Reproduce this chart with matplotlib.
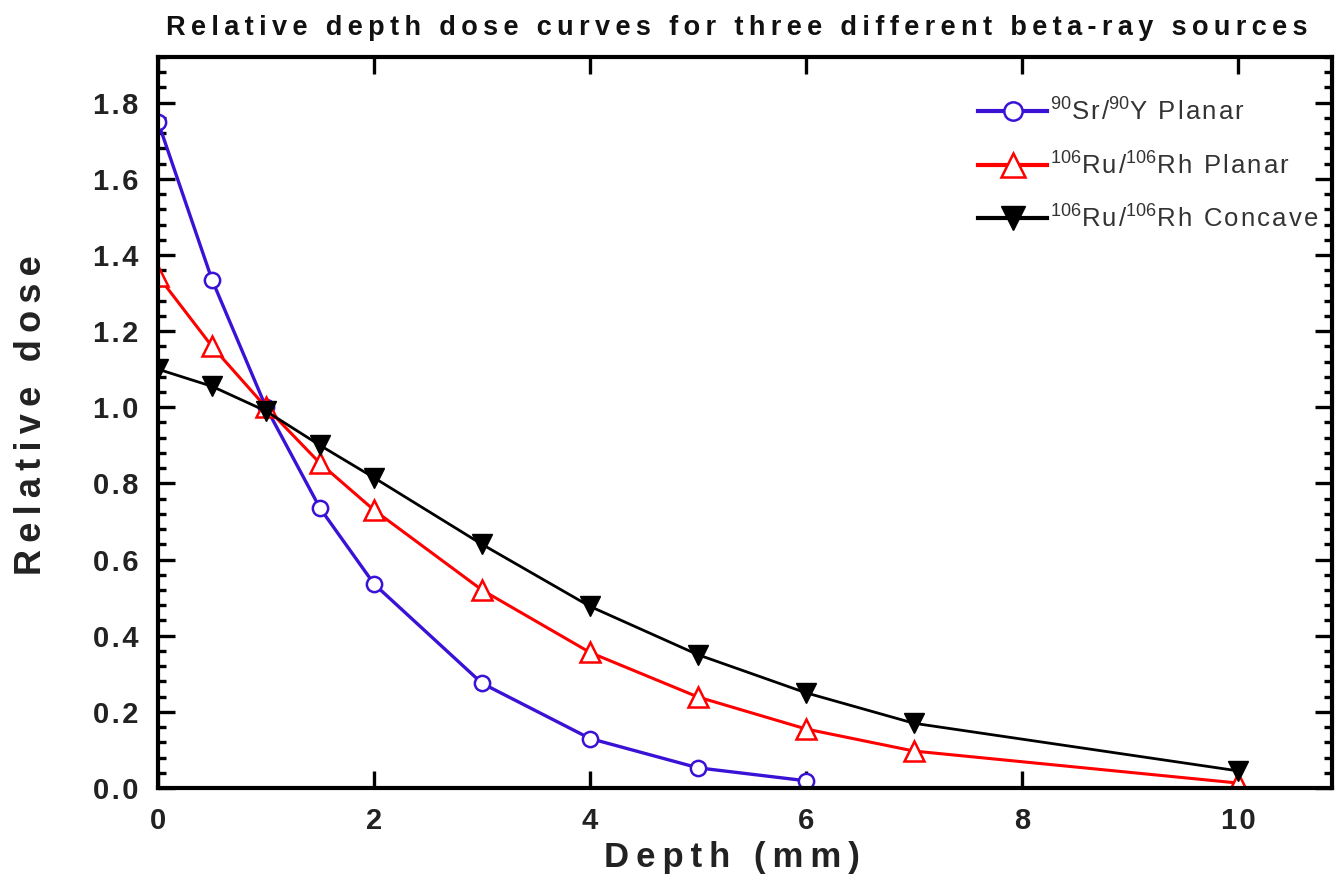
import numpy as np
import matplotlib
matplotlib.use("Agg")
import matplotlib.pyplot as plt
from matplotlib.ticker import MultipleLocator, FuncFormatter

plt.rcParams['font.family'] = ['Liberation Sans', 'DejaVu Sans']
plt.rcParams['mathtext.fontset'] = 'custom'
plt.rcParams['mathtext.rm'] = 'Liberation Sans'

# depth (mm) and relative dose
depth_sr = [0, 0.5, 1, 1.5, 2, 3, 4, 5, 6]
dose_sr = [1.75, 1.335, 1.0, 0.735, 0.536, 0.275, 0.13, 0.053, 0.019]

depth_ru = [0, 0.5, 1, 1.5, 2, 3, 4, 5, 6, 7, 10]
dose_ru_planar = [1.345, 1.16, 1.0, 0.853, 0.73, 0.52, 0.356, 0.239, 0.155, 0.097, 0.013]
dose_ru_concave = [1.1, 1.055, 0.99, 0.9, 0.815, 0.64, 0.477, 0.35, 0.25, 0.17, 0.045]

HS = '\u200a'  # hair space
TS = '\u2009'  # thin space


def spaced(s, sp=HS):
    # loose letter spacing like the original
    return sp.join(s)


labels = [r'$^{90}$' + spaced('Sr/') + r'$^{90}$' + spaced('Y Planar'),
          r'$^{106}$' + spaced('Ru/') + r'$^{106}$' + spaced('Rh Planar'),
          r'$^{106}$' + spaced('Ru/') + r'$^{106}$' + spaced('Rh Concave')]

fig = plt.figure(figsize=(13.39, 8.90), dpi=100)
ax = fig.add_axes([158 / 1339, 1 - 788 / 890, 1174 / 1339, 731 / 890])

ax.plot(depth_sr, dose_sr, color='#3a12d6', lw=2.4, marker='o', ms=11,
        mfc='white', mec='#3a12d6', mew=1.8, label=labels[0])
ax.plot(depth_ru, dose_ru_planar, color='#ff0000', lw=2.2, marker='^', ms=14,
        mfc='white', mec='#ff0000', mew=1.8, label=labels[1])
ax.plot(depth_ru, dose_ru_concave, color='black', lw=2.0, marker='v', ms=14,
        mfc='black', mec='black', label=labels[2])

ax.set_xlim(0, 10.87)
ax.set_ylim(0, 1.92)
ax.set_xticks([0, 2, 4, 6, 8, 10])
ax.yaxis.set_major_locator(MultipleLocator(0.2))
ax.yaxis.set_minor_locator(MultipleLocator(0.04))
ax.xaxis.set_major_formatter(FuncFormatter(lambda v, p: spaced('%d' % v)))
ax.yaxis.set_major_formatter(FuncFormatter(lambda v, p: spaced('%.1f' % v)))

ax.tick_params(which='both', direction='in', top=True, right=True, width=2.4)
ax.tick_params(which='major', length=12)
ax.tick_params(which='minor', length=6)
ax.tick_params(axis='both', labelsize=21, pad=14)
for lab in ax.get_xticklabels() + ax.get_yticklabels():
    lab.set_fontweight('bold')
    lab.set_color('#222222')
for sp in ax.spines.values():
    sp.set_linewidth(3)

fig.text(732 / 1339, 1 - 858 / 890, spaced('Depth (mm)', TS), fontsize=25, fontweight='bold',
         color='#222222', ha='center', va='center')
fig.text(32 / 1339, 1 - 415 / 890, spaced('Relative dose', TS), fontsize=26, fontweight='bold',
         color='#222222', ha='center', va='center', rotation=90)
fig.text(737 / 1339, 1 - 28 / 890,
         spaced('Relative depth dose curves for three different beta-ray sources', TS),
         fontsize=19.5, fontweight='bold', color='#111111', ha='center', va='center')

leg = ax.legend(loc='upper left', bbox_to_anchor=(978 / 1339, 1 - 97 / 890),
                bbox_transform=fig.transFigure, frameon=False, fontsize=18.5,
                handlelength=2.7, labelspacing=1.0, borderpad=0, borderaxespad=0,
                handletextpad=0.1, markerscale=1.2)
for t in leg.get_texts():
    t.set_color('#333333')
for ln in leg.get_lines():
    ln.set_linewidth(3)

fig.savefig('out.png', dpi=100)
